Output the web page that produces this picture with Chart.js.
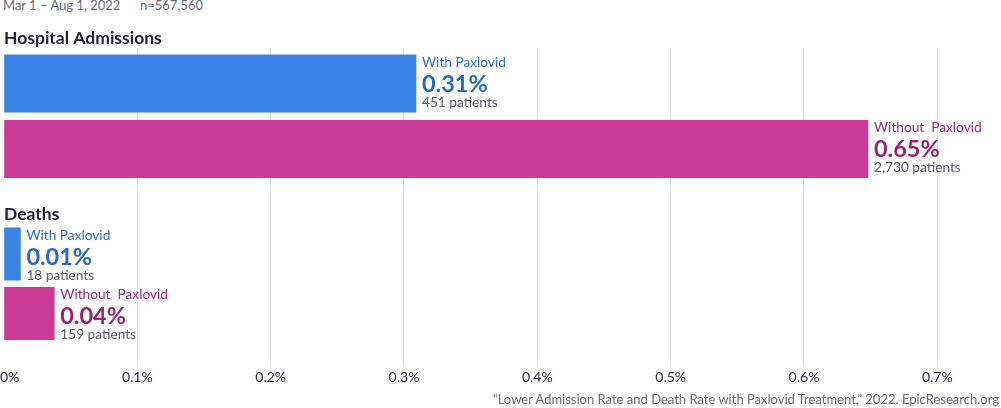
<!DOCTYPE html>
<html>
<head>
<meta charset="utf-8">
<title>Paxlovid admissions and deaths</title>
<script src="https://cdn.jsdelivr.net/npm/chart.js@4.4.1/dist/chart.umd.min.js"></script>
<style>
  html, body { margin: 0; padding: 0; background: #fff; }
  body { width: 1001px; height: 408px; position: relative; overflow: hidden; font-family: Lato, "Noto Sans", sans-serif; }
  #chart { position: absolute; left: 0; top: 0; }
  .meta { position: absolute; top: -1px; font-size: 13px; line-height: 13px; color: #6b6b7b; white-space: pre; }
  .source { position: absolute; right: 2px; top: 393px; font-size: 13px; line-height: 13px; color: #6b6b80; white-space: pre; }
</style>
</head>
<body>
<div class="meta" style="left:3px">Mar 1 – Aug 1, 2022</div>
<div class="meta" style="left:140px">n=567,560</div>
<canvas id="chart" width="1001" height="408"></canvas>
<div class="source">“Lower Admission Rate and Death Rate with Paxlovid Treatment,” 2022. EpicResearch.org</div>

<script>
/* ─── Data (rates in percent) ─── */
const groups = ['Hospital Admissions', 'Deaths'];
const categories = ['With Paxlovid', 'Without  Paxlovid'];
const admissionRates = [0.309, 0.648];
const deathRates = [0.0123, 0.0377];
const admissionRateLabels = ['0.31%', '0.65%'];
const deathRateLabels = ['0.01%', '0.04%'];
const admissionCounts = ['451 patients', '2,730 patients'];
const deathCounts = ['18 patients', '159 patients'];
const xTickLabels = ['0%', '0.1%', '0.2%', '0.3%', '0.4%', '0.5%', '0.6%', '0.7%'];

/* ─── Styles ─── */
const barColors = ['#3a84e6', '#cb3c99'];
const nameColors = ['#2d6fcc', '#a5267a'];
const rateColors = ['#2a68c8', '#a01f70'];
const countColor = '#5b5b6e';
const titleColor = '#1e1c3a';
const tickColor = '#2c2b4a';
const titleGaps = [10.5, 7.5];   /* group title baseline above its first bar */
const FONT = 'Lato, "Noto Sans", sans-serif';

/* ─── Labels beside each bar + group titles ─── */
const barLabels = {
    id: 'barLabels',
    afterDatasetsDraw(chart) {
        const ctx = chart.ctx;
        ctx.save();
        ctx.textAlign = 'left';
        ctx.textBaseline = 'alphabetic';
        chart.data.datasets.forEach(function (ds, di) {
            const meta = chart.getDatasetMeta(di);
            meta.data.forEach(function (bar, i) {
                const top = bar.y - bar.height / 2;
                const x = bar.x + 6;
                if (i === 0) {
                    ctx.font = 'bold 17.5px ' + FONT;
                    ctx.fillStyle = titleColor;
                    ctx.fillText(ds.label, 4, top - titleGaps[di]);
                }
                ctx.font = '13.7px ' + FONT;
                ctx.fillStyle = nameColors[i];
                ctx.fillText(categories[i], x, top + 12);
                ctx.font = 'bold 23.5px ' + FONT;
                ctx.fillStyle = rateColors[i];
                ctx.fillText(ds.rateLabels[i], x, top + 37);
                ctx.font = '13.7px ' + FONT;
                ctx.fillStyle = countColor;
                ctx.fillText(ds.counts[i], x, top + 52);
            });
        });
        ctx.restore();
    }
};

/* ─── x tick labels, first one kept inside the canvas ─── */
const xLabels = {
    id: 'xLabels',
    afterDraw(chart) {
        const ctx = chart.ctx;
        const scale = chart.scales.x;
        ctx.save();
        ctx.font = '14px ' + FONT;
        ctx.fillStyle = tickColor;
        ctx.textAlign = 'center';
        ctx.textBaseline = 'alphabetic';
        scale.ticks.forEach(function (t, i) {
            const text = xTickLabels[i];
            if (!text) return;
            const w = ctx.measureText(text).width;
            const px = Math.max(scale.getPixelForValue(t.value), w / 2);
            ctx.fillText(text, px, chart.chartArea.bottom + 16);
        });
        ctx.restore();
    }
};

const rows = categories.map(function (_, i) { return i; });

/* hidden row axis, stacked one above the other */
function rowAxis(min, max, weight) {
    return {
        type: 'linear',
        position: 'left',
        reverse: true,
        offset: false,
        min: min,
        max: max,
        stack: 'rows',
        stackWeight: weight,
        ticks: { display: false, count: 2 },
        grid: { display: false, drawTicks: false },
        border: { display: false }
    };
}

new Chart(document.getElementById('chart'), {
    type: 'bar',
    data: {
        datasets: [{
            label: groups[0],
            data: admissionRates.map(function (v, i) { return { x: v, y: rows[i] }; }),
            rateLabels: admissionRateLabels,
            counts: admissionCounts,
            yAxisID: 'yAdm',
            backgroundColor: barColors,
            grouped: false,
            barThickness: 57.5,
            maxBarThickness: 57.5,
            borderWidth: 0
        }, {
            label: groups[1],
            data: deathRates.map(function (v, i) { return { x: v, y: rows[i] }; }),
            rateLabels: deathRateLabels,
            counts: deathCounts,
            yAxisID: 'yDth',
            backgroundColor: barColors,
            grouped: false,
            barThickness: 52.5,
            maxBarThickness: 52.5,
            borderWidth: 0
        }]
    },
    options: {
        indexAxis: 'y',
        responsive: false,
        animation: false,
        layout: { padding: { left: 4, right: 63.7, top: 48, bottom: 42 } },
        plugins: { legend: { display: false }, tooltip: { enabled: false } },
        scales: {
            x: {
                type: 'linear',
                min: 0,
                max: 0.7,
                position: 'bottom',
                ticks: { display: false, stepSize: 0.1 },
                grid: {
                    drawTicks: false,
                    color: function (c) { return c.tick && c.tick.value === 0 ? 'rgba(0,0,0,0)' : '#dddddd'; }
                },
                border: { display: false }
            },
            // later scales are stacked on top, so deaths comes first
            yDth: rowAxis(-0.857, 1.882, 163),
            yAdm: rowAxis(-0.542, 1.824, 155)
        }
    },
    plugins: [barLabels, xLabels]
});
</script>
</body>
</html>
